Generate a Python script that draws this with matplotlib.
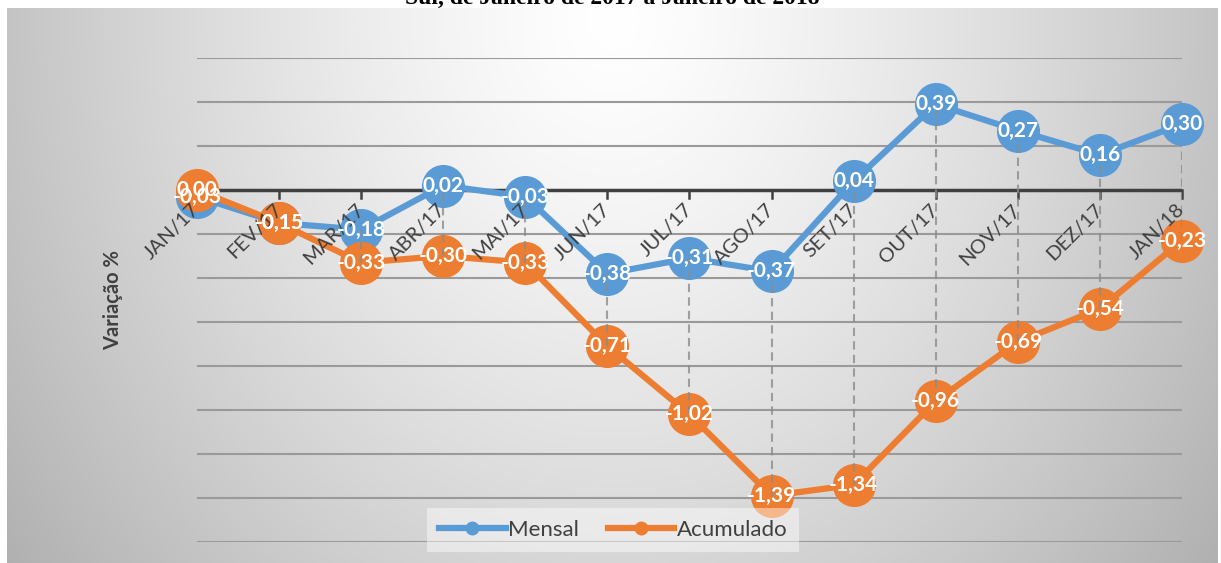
import numpy as np
import matplotlib
matplotlib.use("Agg")
import matplotlib.pyplot as plt
from matplotlib.transforms import offset_copy

meses = ["JAN/17", "FEV/17", "MAR/17", "ABR/17", "MAI/17", "JUN/17", "JUL/17",
         "AGO/17", "SET/17", "OUT/17", "NOV/17", "DEZ/17", "JAN/18"]
mensal = [-0.03, -0.15, -0.18, 0.02, -0.03, -0.38, -0.31, -0.37, 0.04, 0.39, 0.27, 0.16, 0.30]
acumulado = [0.00, -0.15, -0.33, -0.30, -0.33, -0.71, -1.02, -1.39, -1.34, -0.96, -0.69, -0.54, -0.23]
titulo = "Sul, de Janeiro de 2017 a Janeiro de 2018"

azul = "#5B9BD5"
laranja = "#ED7D31"
cinza_txt = "#404040"

plt.rcParams['font.family'] = ['Lato', 'DejaVu Sans']

W, H = 1221, 563
fig = plt.figure(figsize=(W / 100, H / 100), dpi=100)

# titulo (cortado pela area do grafico)
fig.text(612 / W, 1 - 4 / H, titulo, ha="center", va="baseline",
         family="Liberation Serif", weight="bold", fontsize=17, zorder=0)

# fundo com gradiente
bg = fig.add_axes([7 / W, 0, (1218 - 7) / W, (H - 8) / H], zorder=1)
yy, xx = np.mgrid[0:1:300j, 0:1:600j]
r = np.sqrt(((xx - 0.5) / 0.5) ** 2 + ((yy - 0.02) / 1.3) ** 2)
c = np.clip(1 - 0.23 * r ** 1.3, 0, 1)
bg.imshow(np.dstack([c, c, c]), aspect="auto", extent=[0, 1, 1, 0])
bg.set_axis_off()

ax = fig.add_axes([197 / W, 1 - 542 / H, (1182 - 197) / W, (542 - 58) / H], zorder=2)
ax.patch.set_alpha(0)
x = np.arange(len(meses))
ax.set_xlim(0, len(meses) - 1)
ax.set_ylim(-1.6, 0.6)

for g in np.arange(-1.6, 0.61, 0.2):
    if abs(g) > 1e-9:
        ax.axhline(g, color="#9a9a9a", lw=1.5, zorder=1)
ax.axhline(0, color=cinza_txt, lw=2.5, zorder=2)
for xi in x:
    ax.plot([xi, xi], [0, -0.035], color=cinza_txt, lw=1.8, zorder=2, clip_on=False)

# linhas de maximo e minimo
for xi, a, b in zip(x, mensal, acumulado):
    ax.plot([xi, xi], [min(a, b), max(a, b)], color="#8c8c8c", lw=1.5,
            ls=(0, (4, 2.5)), zorder=6, alpha=0.8)

ax.plot(x, mensal, color=azul, lw=4.5, marker="o", ms=30, mec=azul, zorder=4,
        clip_on=False, label="Mensal")
ax.plot(x, acumulado, color=laranja, lw=4.5, marker="o", ms=30, mec=laranja, zorder=5,
        clip_on=False, label="Acumulado")

def fmt(v):
    return ("%.2f" % v).replace(".", ",")

for xi, v in zip(x, mensal):
    ax.text(xi, v, fmt(v), ha="center", va="center", color="white",
            fontsize=15, weight="bold", zorder=8)
for xi, v in zip(x, acumulado):
    ax.text(xi, v, fmt(v), ha="center", va="center", color="white",
            fontsize=15, weight="bold", zorder=8)

# rotulos das categorias
tr = offset_copy(ax.transData, fig=fig, x=0, y=-17, units="dots")
for xi, m in zip(x, meses):
    ax.text(xi, 0, m, transform=tr, rotation=45, rotation_mode="anchor",
            ha="right", va="center", color=cinza_txt, fontsize=14.5, zorder=7)

ax.set_xticks([])
ax.set_yticks([])
for s in ax.spines.values():
    s.set_visible(False)

fig.text(113 / W, 1 - 300 / H, "Variação %", rotation=90, ha="center", va="center",
         color=cinza_txt, fontsize=14.5, weight="bold", zorder=3)

h1, = ax.plot([], [], color=azul, lw=4.5, marker="o", ms=9)
h2, = ax.plot([], [], color=laranja, lw=4.5, marker="o", ms=9)
leg = fig.legend([h1, h2], ["Mensal", "Acumulado"], loc="center",
                 bbox_to_anchor=(613 / W, 1 - 530 / H), ncol=2, frameon=True,
                 fontsize=16, handlelength=3.0, handletextpad=0.1, columnspacing=1.3,
                 borderpad=0.55, fancybox=False)
leg.get_frame().set_facecolor("white")
leg.get_frame().set_alpha(0.45)
leg.get_frame().set_edgecolor("none")
leg.set_zorder(9)
for t in leg.get_texts():
    t.set_color(cinza_txt)

fig.savefig("out.png", dpi=100)
